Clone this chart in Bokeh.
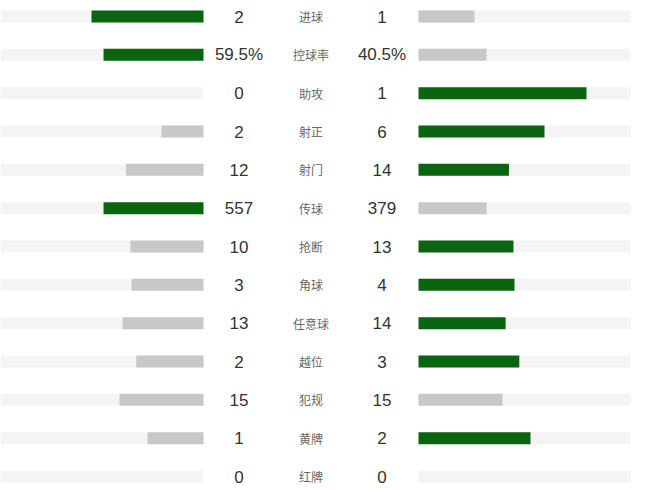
from bokeh.plotting import figure
from bokeh.models import Range1d, ColumnDataSource
from bokeh.core.properties import value
from bokeh.embed import file_html
from bokeh.resources import INLINE

labels = ["进球", "控球率", "助攻", "射正", "射门", "传球", "抢断", "角球", "任意球", "越位", "犯规", "黄牌", "红牌"]
home = [2, 59.5, 0, 2, 12, 557, 10, 3, 13, 2, 15, 1, 0]
away = [1, 40.5, 1, 6, 14, 379, 13, 4, 14, 3, 15, 2, 0]
home_text = ["2", "59.5%", "0", "2", "12", "557", "10", "3", "13", "2", "15", "1", "0"]
away_text = ["1", "40.5%", "1", "6", "14", "379", "13", "4", "14", "3", "15", "2", "0"]

GREEN = "#0a6410"
GRAY = "#c8c8c8"
TRACK = "#f4f4f4"
SCALE = 168.0
LEFT_END = 203
RIGHT_START = 418
RIGHT_TRACK_END = 630

n = len(labels)
W, H = 640, 490
rowpx = (476 - 16) / (n - 1)
p = figure(width=W, height=H, output_backend="svg", toolbar_location=None,
           x_range=Range1d(0, W),
           y_range=Range1d((H - 16) / rowpx, (0 - 16) / rowpx),
           min_border=0)
p.axis.visible = False
p.grid.visible = False
p.outline_line_color = None
p.background_fill_color = "white"

ys = list(range(n))
hl, hr, hc, al, ar, ac = [], [], [], [], [], []
for h, a in zip(home, away):
    tot = h + a
    fh = h / tot * SCALE if tot else 0
    fa = a / tot * SCALE if tot else 0
    hl.append(LEFT_END - fh); hr.append(LEFT_END)
    al.append(RIGHT_START); ar.append(RIGHT_START + fa)
    hc.append(GREEN if h > a else GRAY)
    ac.append(GREEN if a > h else GRAY)

bh = 12 / rowpx
p.hbar(y=ys, left=0, right=LEFT_END, height=bh, fill_color=TRACK, line_color=None)
p.hbar(y=ys, left=RIGHT_START, right=RIGHT_TRACK_END, height=bh, fill_color=TRACK, line_color=None)
src = ColumnDataSource(dict(y=ys, hl=hl, hr=hr, hc=hc, al=al, ar=ar, ac=ac,
                            ht=home_text, at=away_text, lab=labels))
p.hbar(y="y", left="hl", right="hr", height=bh, fill_color="hc", line_color=None, source=src)
p.hbar(y="y", left="al", right="ar", height=bh, fill_color="ac", line_color=None, source=src)

p.text(x=238.5, y="y", text="ht", source=src, text_align="center", text_baseline="middle",
       text_font=value("Liberation Sans"), text_font_size="17px", text_color="#333333")
p.text(x=381.5, y="y", text="at", source=src, text_align="center", text_baseline="middle",
       text_font=value("Liberation Sans"), text_font_size="17px", text_color="#333333")
p.text(x=310.5, y="y", text="lab", source=src, text_align="center", text_baseline="middle",
       text_font=value("Noto Sans CJK SC"), text_font_size="12px", text_color="#666666")

open("out.html", "w").write(file_html(p, INLINE))
